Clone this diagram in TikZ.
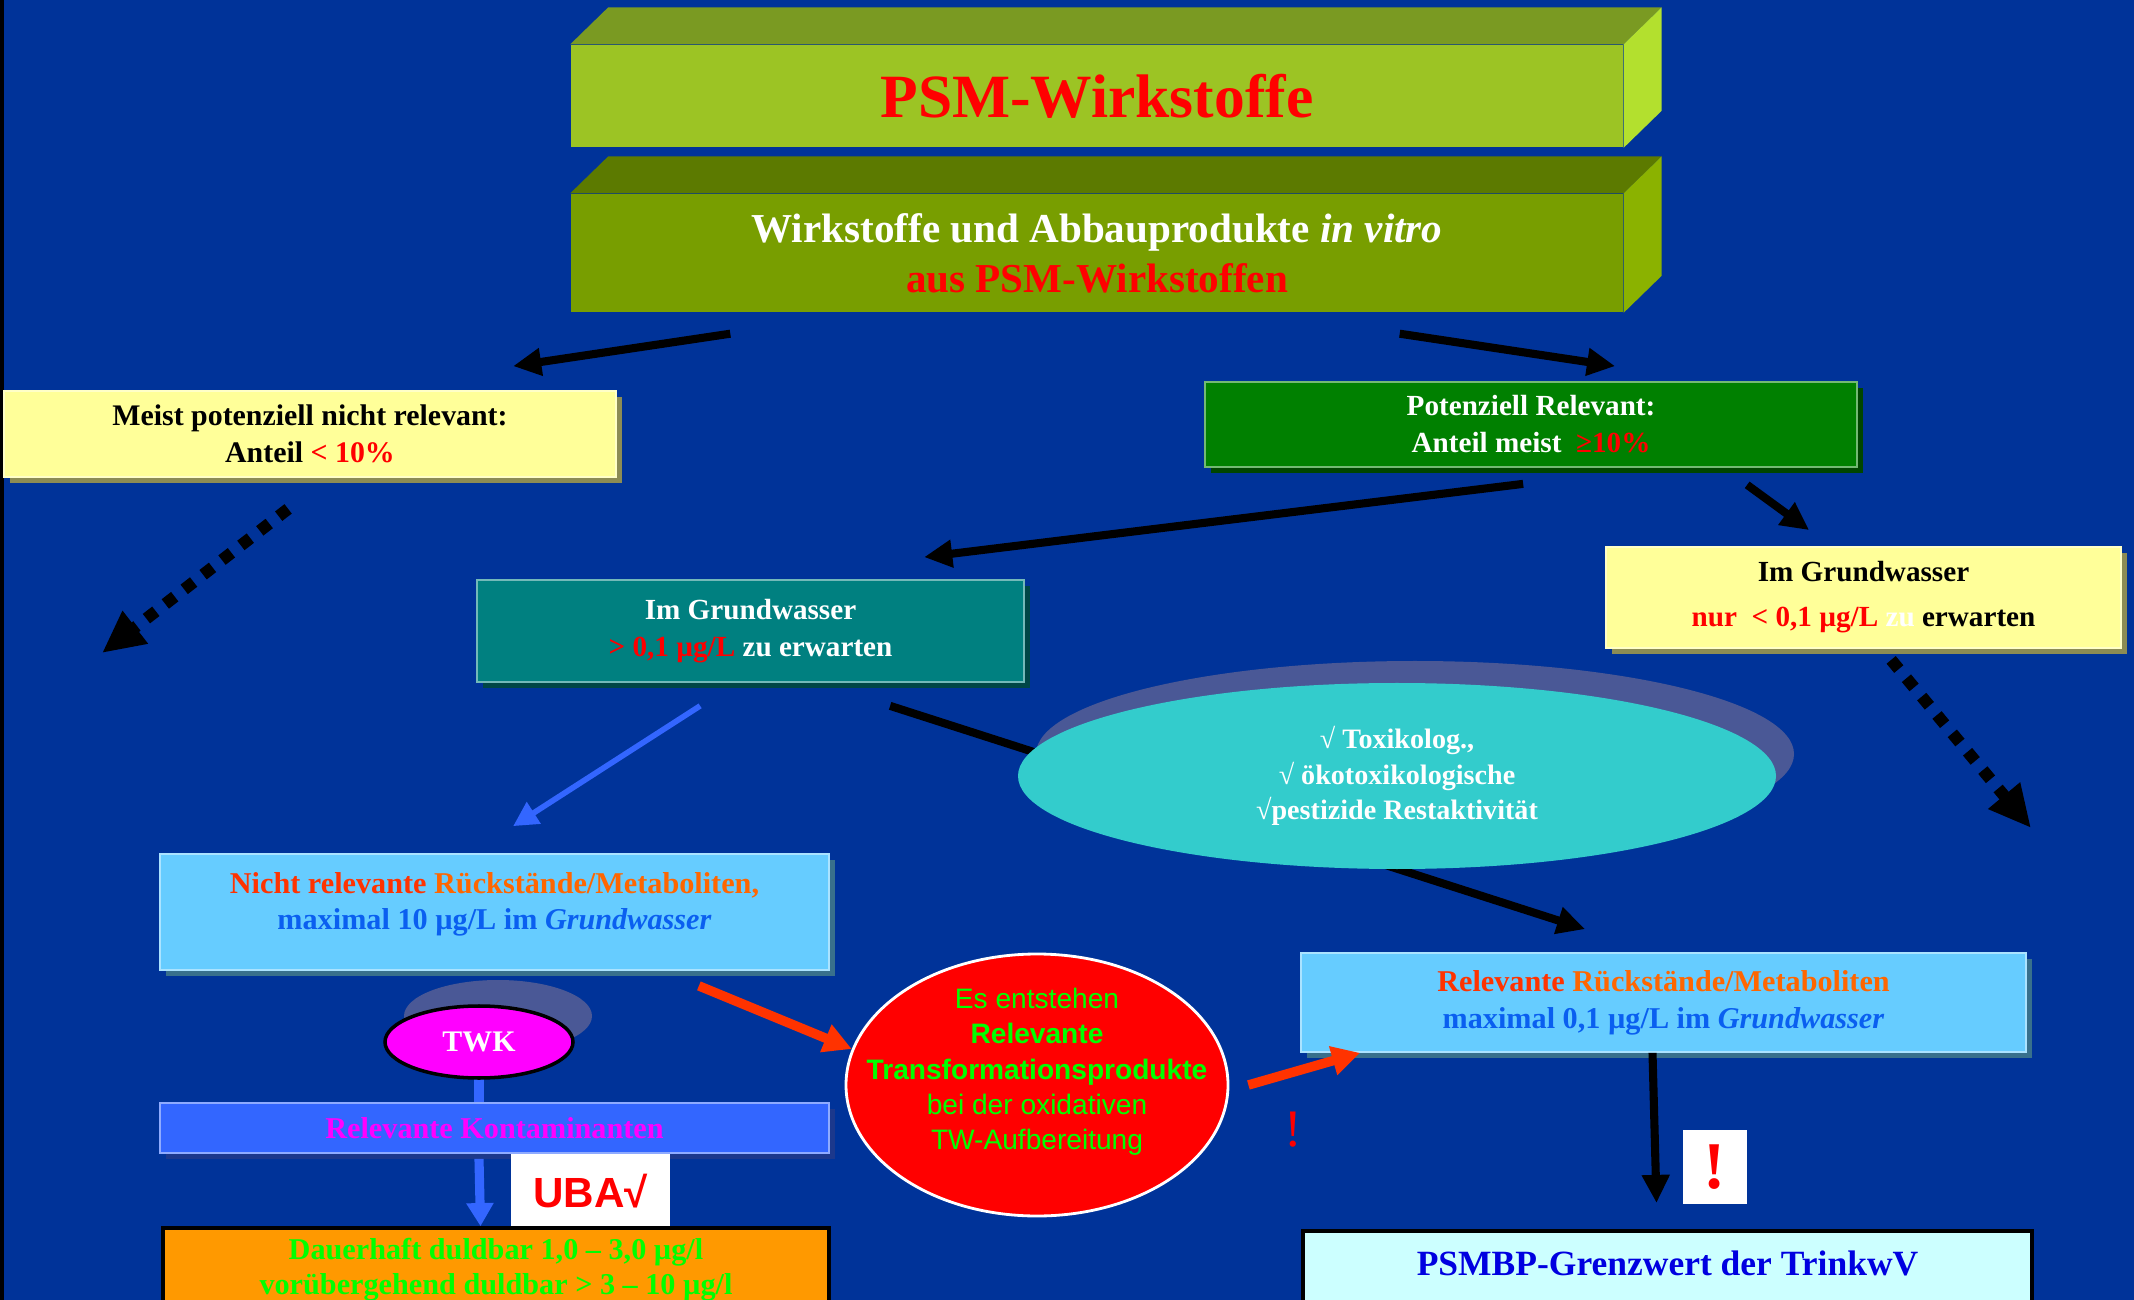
\documentclass[tikz,border=0pt]{standalone}
\usepackage{fontspec}
\setmainfont{Liberation Serif}
\newfontfamily\arialfont{Liberation Sans}
\usetikzlibrary{positioning,shapes.geometric,arrows.meta,shadows}

\definecolor{bgblue}{HTML}{003399}
\definecolor{limeA}{HTML}{9CC424}
\definecolor{limeAtop}{HTML}{7A9A22}
\definecolor{limeAside}{HTML}{B3E02E}
\definecolor{limeB}{HTML}{789E00}
\definecolor{limeBtop}{HTML}{5C7A00}
\definecolor{limeBside}{HTML}{8BB200}
\definecolor{paleyellow}{HTML}{FFFF99}
\definecolor{darkgreen}{HTML}{008000}
\definecolor{tealbox}{HTML}{008080}
\definecolor{cyanell}{HTML}{33CCCC}
\definecolor{gridshadow}{HTML}{4A5896}
\definecolor{skyblue}{HTML}{66CCFF}
\definecolor{kontblue}{HTML}{3366FF}
\definecolor{orangebox}{HTML}{FF9900}
\definecolor{palecyan}{HTML}{CCFFFF}
\definecolor{redorange}{HTML}{FF3300}
\definecolor{orangetxt}{HTML}{FF6600}
\definecolor{txtblue}{HTML}{0A5FF0}
\definecolor{grenzblue}{HTML}{0000E0}
\definecolor{brightgreen}{HTML}{00FF00}
\definecolor{twkpink}{HTML}{FF00FF}

\newcommand{\fsz}[2]{\fontsize{#1}{#2}\selectfont}

\begin{document}
\begin{tikzpicture}[
  front/.style={rectangle, minimum width=10.52cm, inner sep=0pt, align=center, font=\bfseries},
  box/.style={rectangle, fill=#1, draw=#1!55!white, line width=0.5pt, inner sep=0pt, align=center,
    font=\bfseries\fsz{8.3}{10.5},
    drop shadow={shadow xshift=0.06cm, shadow yshift=-0.06cm, fill=#1!55!black, opacity=1}},
  plain/.style={rectangle, fill=#1, draw=black, line width=1pt, inner sep=0pt, align=center},
  blk/.style={draw=black, line width=2.3pt, -{Triangle[length=8pt,width=7.5pt]}},
  dots/.style={draw=black, line width=3.4pt, dash pattern=on 3.4pt off 3.4pt, -{Triangle[length=12pt,width=11pt]}},
  redarr/.style={draw=redorange, line width=2.7pt, -{Triangle[length=8pt,width=8pt]}},
  bluarr/.style={draw=kontblue, line width=1.6pt, -{Triangle[length=7pt,width=7pt]}},
  bluline/.style={draw=kontblue, line width=2.6pt}
]

\useasboundingbox (0,0) rectangle (21.34,-13);
\clip (0,0) rectangle (21.34,-13);
\fill[bgblue] (0,0) rectangle (21.34,-13);
\fill[black] (0,0) rectangle (0.04,-13);

% Top blocks
\node[front, fill=limeA, minimum height=1.02cm, text=red, font=\bfseries\fsz{17.5}{20}] (psm) at (10.97,-0.96) {PSM-Wirkstoffe};
\fill[limeAtop] (psm.north west) -- ++(0.38,0.37) -- ([shift={(0.38,0.37)}]psm.north east) -- (psm.north east) -- cycle;
\fill[limeAside] (psm.north east) -- ++(0.38,0.37) -- ([shift={(0.38,0.37)}]psm.south east) -- (psm.south east) -- cycle;

\node[front, fill=limeB, minimum height=1.18cm, text=white, font=\bfseries\fsz{11.7}{14.2}] (wirk) at (10.97,-2.53)
  {Wirkstoffe und Abbauprodukte \textit{in vitro}\\\textcolor{red}{aus PSM-Wirkstoffen}};
\fill[limeBtop] (wirk.north west) -- ++(0.38,0.37) -- ([shift={(0.38,0.37)}]wirk.north east) -- (wirk.north east) -- cycle;
\fill[limeBside] (wirk.north east) -- ++(0.38,0.37) -- ([shift={(0.38,0.37)}]wirk.south east) -- (wirk.south east) -- cycle;

% Second row
\node[box=paleyellow, minimum width=6.12cm, minimum height=0.86cm, font=\bfseries\fsz{8.5}{10.7}] (nrel) at (3.10,-4.34)
  {Meist potenziell nicht relevant:\\Anteil \textcolor{red}{< 10\%}};
\node[box=darkgreen, minimum width=6.52cm, minimum height=0.85cm, text=white] (prel) at (15.31,-4.245)
  {Potenziell Relevant:\\Anteil meist\ \ \textcolor{red}{≥10\%}};

% Groundwater
\node[box=tealbox, minimum width=5.47cm, minimum height=1.02cm, text=white] (gwhigh) at (7.505,-6.31)
  {Im Grundwasser\\\textcolor{red}{> 0,1 µg/L} zu erwarten};
\node[box=paleyellow, minimum width=5.15cm, minimum height=1.01cm, font=\bfseries\fsz{8.3}{12.8}] (gwlow) at (18.635,-5.975)
  {Im Grundwasser\\\textcolor{red}{nur\ \ < 0,1 µg/L} \textcolor{white}{zu} erwarten};

% Left column
\node[box=skyblue, minimum width=6.69cm, minimum height=1.16cm, font=\bfseries\fsz{8.6}{10.5}] (nrm) at (4.945,-9.12)
  {\textcolor{redorange}{Nicht relevante} \textcolor{orangetxt}{Rückstände/Metaboliten,}\\\textcolor{txtblue}{maximal 10 µg/L im \textit{Grundwasser}}\\[-0.15cm]};
\node[box=kontblue, minimum width=6.69cm, minimum height=0.50cm, text=twkpink, font=\bfseries\fsz{8.6}{10}] (kont) at (4.945,-11.28)
  {Relevante Kontaminanten};
\node[rectangle, fill=white, minimum width=1.59cm, minimum height=0.74cm, inner sep=0pt, text=red, font=\arialfont\bfseries\fsz{12}{14}] (uba) at (5.905,-11.91) {UBA√};
\node[plain=orangebox, minimum width=6.66cm, minimum height=0.84cm, text=brightgreen, font=\bfseries\fsz{8.6}{10}] (dauer) at (4.96,-12.70)
  {Dauerhaft duldbar 1,0 – 3,0 µg/l\\vorübergehend duldbar > 3 – 10 µg/l};

% Middle
\node[ellipse, fill=red, draw=white, line width=0.8pt, minimum width=3.82cm, minimum height=2.62cm,
  inner xsep=-0.6cm, inner ysep=-0.3cm, align=center, text=brightgreen, font=\arialfont\fsz{8}{10}] (trans) at (10.37,-10.85)
  {Es entstehen\\\textbf{Relevante}\\\textbf{Transformationsprodukte}\\bei der oxidativen\\TW-Aufbereitung\\[-0.03cm]};
\node[text=red, font=\fsz{15}{16}] (warn) at (12.93,-11.30) {!};

% Right column
\node[box=skyblue, minimum width=7.25cm, minimum height=0.99cm, font=\bfseries\fsz{8.6}{10.5}] (rrm) at (16.635,-10.025)
  {\textcolor{redorange}{Relevante} \textcolor{orangetxt}{Rückstände/Metaboliten}\\\textcolor{txtblue}{maximal 0,1 µg/L im \textit{Grundwasser}}};
\node[rectangle, fill=white, minimum width=0.64cm, minimum height=0.74cm, inner sep=0pt, text=red, font=\bfseries\fsz{19}{20}] (excl) at (17.15,-11.67) {!};
\node[plain=palecyan, anchor=north, minimum width=7.29cm, inner ysep=0pt, text height=0.45cm, text depth=0.75cm,
  text=grenzblue, font=\bfseries\fsz{10.1}{11}] (grenz) at (16.675,-12.29) {PSMBP-Grenzwert der TrinkwV};

% Arrows
\coordinate (endL) at (1.02,-6.53);
\coordinate (endR) at (20.31,-8.28);
\draw[blk] ([xshift=1.60cm,yshift=-0.21cm]wirk.south west) -- ([xshift=5.10cm,yshift=0.24cm]nrel.north west);
\draw[blk] ([xshift=-2.24cm,yshift=-0.21cm]wirk.south east) -- ([xshift=4.11cm,yshift=0.15cm]prel.north west);
\draw[blk] ([xshift=3.19cm,yshift=-0.16cm]prel.south west) -- ([xshift=4.48cm,yshift=0.22cm]gwhigh.north west);
\draw[blk] ([xshift=5.43cm,yshift=-0.17cm]prel.south west) -- ([xshift=2.04cm,yshift=0.16cm]gwlow.north west);
\draw[dots] ([xshift=2.85cm,yshift=-0.31cm]nrel.south west) -- (endL);
\draw[dots] ([xshift=2.86cm,yshift=-0.11cm]gwlow.south west) -- (endR);
\draw[bluarr] ([xshift=2.24cm,yshift=-0.23cm]gwhigh.south west) -- ([xshift=3.54cm,yshift=0.27cm]nrm.north west);
\draw[blk] ([xshift=4.14cm,yshift=-0.23cm]gwhigh.south west) -- ([xshift=2.85cm,yshift=0.23cm]rrm.north west);
\draw[bluline] ([xshift=-0.155cm,yshift=-0.10cm]nrm.south) -- ([xshift=-0.155cm]kont.north);
\draw[bluline, -{Triangle[length=6.6pt,width=7.4pt]}] ([xshift=-0.155cm,yshift=-0.05cm]kont.south) -- ([xshift=-0.155cm]dauer.north);
\draw[redarr] ([xshift=-1.31cm,yshift=-0.15cm]nrm.south east) -- (trans.169);
\draw[redarr] ([xshift=0.19cm]trans.east) -- ([xshift=0.60cm]rrm.south west);
\draw[blk] ([xshift=-0.11cm]rrm.south) -- ([xshift=-0.11cm,yshift=0.26cm]grenz.north);

% Ellipses on top of the lines
\node[ellipse, fill=cyanell, minimum width=7.58cm, minimum height=1.86cm, inner sep=0pt, align=center,
  text=white, font=\bfseries\fsz{8}{10},
  drop shadow={shadow xshift=0.18cm, shadow yshift=0.22cm, fill=gridshadow, opacity=1}] (tox) at (13.97,-7.76)
  {√ Toxikolog.,\\√ ökotoxikologische\\√pestizide Restaktivität};
\node[ellipse, fill=twkpink, draw=black, line width=1pt, minimum width=1.88cm, minimum height=0.72cm, inner sep=0pt,
  text=white, font=\bfseries\fsz{8.5}{10},
  drop shadow={shadow xshift=0.19cm, shadow yshift=0.26cm, fill=gridshadow, opacity=1}] (twk) at (4.79,-10.42) {TWK};

\end{tikzpicture}
\end{document}
